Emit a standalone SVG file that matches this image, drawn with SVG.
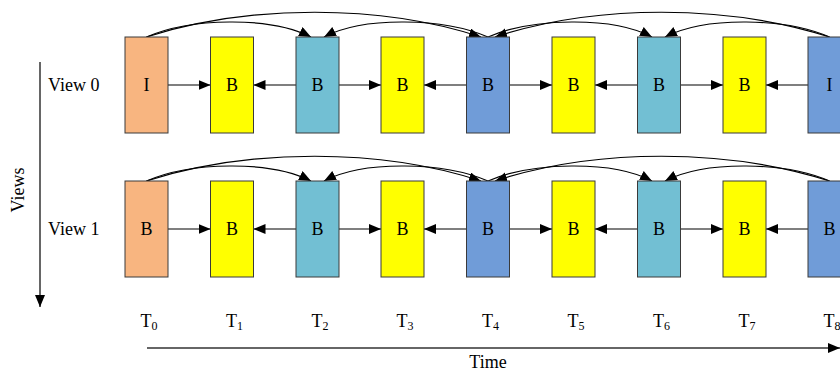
<svg xmlns="http://www.w3.org/2000/svg" width="840" height="374" viewBox="0 0 840 374">
<style>
.box{stroke:#3a3a3a;stroke-width:1}
.o{fill:#F8B580}.y{fill:#FFFF00}.t{fill:#72BFD3}.b{fill:#709CD8}
.lbl{font-family:"Liberation Serif","Times New Roman",serif;font-size:18px;fill:#000;text-anchor:middle}
.txt{font-family:"Liberation Serif","Times New Roman",serif;font-size:18px;fill:#000}
.sub{font-size:12px}
.e{fill:none;stroke:#000;stroke-width:1.2}
.ax{fill:none;stroke:#333;stroke-width:1.5}
</style>
<defs>
<marker id="ah" markerUnits="userSpaceOnUse" markerWidth="13" markerHeight="11" refX="12" refY="5" orient="auto">
<path d="M0,0 L12,5 L0,10 z" fill="#000"/>
</marker>
</defs>
<rect width="840" height="374" fill="#fff"/>

<g id="axes">
<line class="ax" x1="40" y1="62" x2="40" y2="307" marker-end="url(#ah)"/>
<line class="ax" x1="147" y1="348" x2="840" y2="348" marker-end="url(#ah)"/>
<text class="txt" x="488" y="368" text-anchor="middle">Time</text>
<text class="txt" transform="translate(24,190) rotate(-90)" text-anchor="middle">Views</text>
<text class="txt" x="48" y="91">View 0</text>
<text class="txt" x="48" y="235">View 1</text>
</g>

<g id="connectors">
<line class="e" x1="168" y1="85" x2="210.5" y2="85" marker-end="url(#ah)"/>
<line class="e" x1="296" y1="85" x2="253.5" y2="85" marker-end="url(#ah)"/>
<line class="e" x1="339" y1="85" x2="381" y2="85" marker-end="url(#ah)"/>
<line class="e" x1="466.5" y1="85" x2="424" y2="85" marker-end="url(#ah)"/>
<line class="e" x1="509.5" y1="85" x2="552" y2="85" marker-end="url(#ah)"/>
<line class="e" x1="637.5" y1="85" x2="595" y2="85" marker-end="url(#ah)"/>
<line class="e" x1="680.5" y1="85" x2="723" y2="85" marker-end="url(#ah)"/>
<line class="e" x1="808" y1="85" x2="766" y2="85" marker-end="url(#ah)"/>
<path class="e" d="M146.5,37 C190,18 270,16 311,37" marker-end="url(#ah)"/>
<path class="e" d="M488,37 C444,18 364,16 324,37" marker-end="url(#ah)"/>
<path class="e" d="M146.5,37 C250,4 380,4 481,37" marker-end="url(#ah)"/>
<path class="e" d="M829.5,37 C726,4 596,4 495,37" marker-end="url(#ah)"/>
<path class="e" d="M488,37 C532,18 612,16 652,37" marker-end="url(#ah)"/>
<path class="e" d="M829.5,37 C786,18 706,16 665,37" marker-end="url(#ah)"/>
<line class="e" x1="168" y1="229" x2="210.5" y2="229" marker-end="url(#ah)"/>
<line class="e" x1="296" y1="229" x2="253.5" y2="229" marker-end="url(#ah)"/>
<line class="e" x1="339" y1="229" x2="381" y2="229" marker-end="url(#ah)"/>
<line class="e" x1="466.5" y1="229" x2="424" y2="229" marker-end="url(#ah)"/>
<line class="e" x1="509.5" y1="229" x2="552" y2="229" marker-end="url(#ah)"/>
<line class="e" x1="637.5" y1="229" x2="595" y2="229" marker-end="url(#ah)"/>
<line class="e" x1="680.5" y1="229" x2="723" y2="229" marker-end="url(#ah)"/>
<line class="e" x1="808" y1="229" x2="766" y2="229" marker-end="url(#ah)"/>
<path class="e" d="M146.5,181 C190,162 270,160 311,181" marker-end="url(#ah)"/>
<path class="e" d="M488,181 C444,162 364,160 324,181" marker-end="url(#ah)"/>
<path class="e" d="M146.5,181 C250,148 380,148 481,181" marker-end="url(#ah)"/>
<path class="e" d="M829.5,181 C726,148 596,148 495,181" marker-end="url(#ah)"/>
<path class="e" d="M488,181 C532,162 612,160 652,181" marker-end="url(#ah)"/>
<path class="e" d="M829.5,181 C786,162 706,160 665,181" marker-end="url(#ah)"/>
</g>

<g id="v0t0"><rect class="box o" x="125" y="37" width="43" height="96"/><text class="lbl" x="146.5" y="91">I</text></g>
<g id="v0t1"><rect class="box y" x="210.5" y="37" width="43" height="96"/><text class="lbl" x="232" y="91">B</text></g>
<g id="v0t2"><rect class="box t" x="296" y="37" width="43" height="96"/><text class="lbl" x="317.5" y="91">B</text></g>
<g id="v0t3"><rect class="box y" x="381" y="37" width="43" height="96"/><text class="lbl" x="402.5" y="91">B</text></g>
<g id="v0t4"><rect class="box b" x="466.5" y="37" width="43" height="96"/><text class="lbl" x="488" y="91">B</text></g>
<g id="v0t5"><rect class="box y" x="552" y="37" width="43" height="96"/><text class="lbl" x="573.5" y="91">B</text></g>
<g id="v0t6"><rect class="box t" x="637.5" y="37" width="43" height="96"/><text class="lbl" x="659" y="91">B</text></g>
<g id="v0t7"><rect class="box y" x="723" y="37" width="43" height="96"/><text class="lbl" x="744.5" y="91">B</text></g>
<g id="v0t8"><rect class="box b" x="808" y="37" width="43" height="96"/><text class="lbl" x="829.5" y="91">I</text></g>

<g id="v1t0"><rect class="box o" x="125" y="181" width="43" height="96"/><text class="lbl" x="146.5" y="235">B</text></g>
<g id="v1t1"><rect class="box y" x="210.5" y="181" width="43" height="96"/><text class="lbl" x="232" y="235">B</text></g>
<g id="v1t2"><rect class="box t" x="296" y="181" width="43" height="96"/><text class="lbl" x="317.5" y="235">B</text></g>
<g id="v1t3"><rect class="box y" x="381" y="181" width="43" height="96"/><text class="lbl" x="402.5" y="235">B</text></g>
<g id="v1t4"><rect class="box b" x="466.5" y="181" width="43" height="96"/><text class="lbl" x="488" y="235">B</text></g>
<g id="v1t5"><rect class="box y" x="552" y="181" width="43" height="96"/><text class="lbl" x="573.5" y="235">B</text></g>
<g id="v1t6"><rect class="box t" x="637.5" y="181" width="43" height="96"/><text class="lbl" x="659" y="235">B</text></g>
<g id="v1t7"><rect class="box y" x="723" y="181" width="43" height="96"/><text class="lbl" x="744.5" y="235">B</text></g>
<g id="v1t8"><rect class="box b" x="808" y="181" width="43" height="96"/><text class="lbl" x="829.5" y="235">B</text></g>

<g id="times" class="lbl">
<text x="149" y="327">T<tspan class="sub" dy="3">0</tspan></text>
<text x="234.5" y="327">T<tspan class="sub" dy="3">1</tspan></text>
<text x="320" y="327">T<tspan class="sub" dy="3">2</tspan></text>
<text x="405" y="327">T<tspan class="sub" dy="3">3</tspan></text>
<text x="490.5" y="327">T<tspan class="sub" dy="3">4</tspan></text>
<text x="576" y="327">T<tspan class="sub" dy="3">5</tspan></text>
<text x="661.5" y="327">T<tspan class="sub" dy="3">6</tspan></text>
<text x="747" y="327">T<tspan class="sub" dy="3">7</tspan></text>
<text x="832" y="327">T<tspan class="sub" dy="3">8</tspan></text>
</g>
</svg>
